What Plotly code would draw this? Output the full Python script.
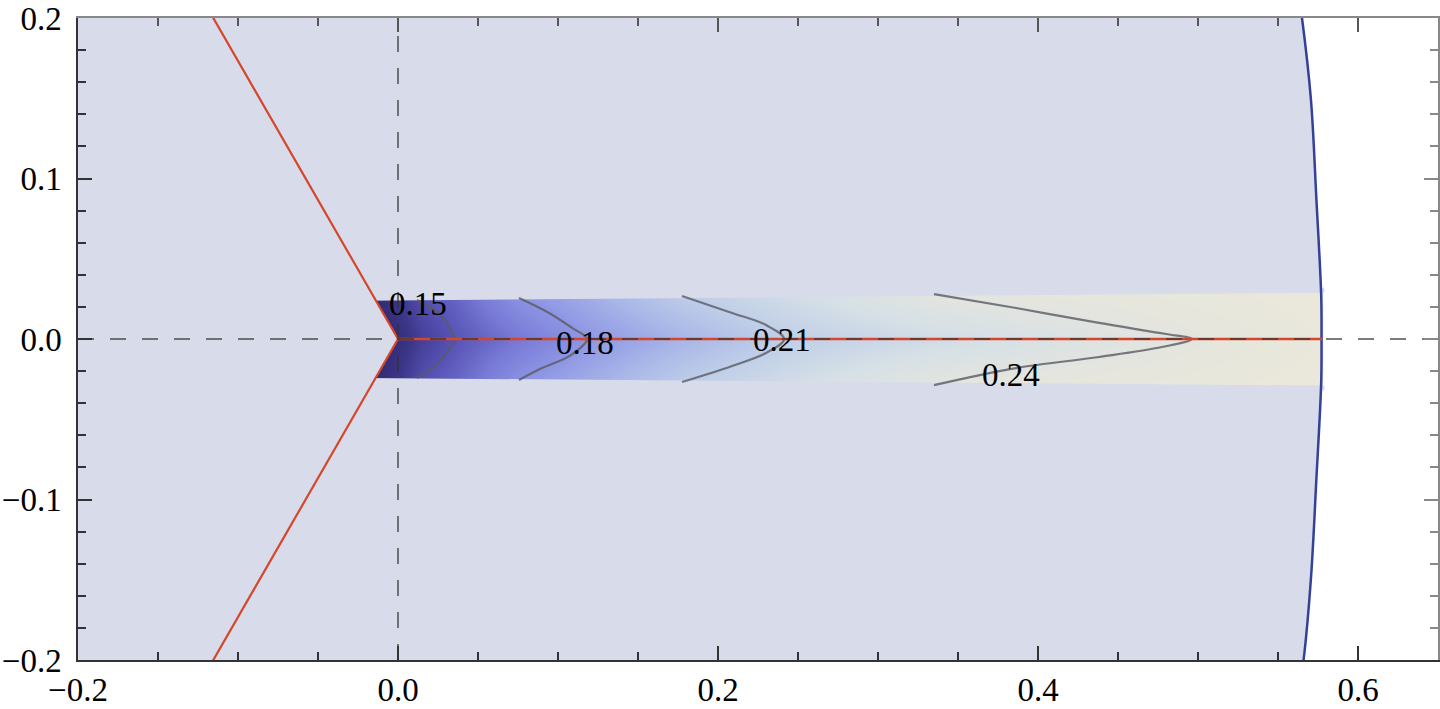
import numpy as np
import plotly.graph_objects as go

#### data ####
# boundary curve (dark blue), x as a function of y
blue_y = [0.21, 0.2, 0.149, 0.087, 0.027, 0.0, -0.027, -0.087, -0.149, -0.2, -0.21]
blue_x = [0.5635, 0.565, 0.5706, 0.574, 0.577, 0.5772, 0.577, 0.574, 0.5706, 0.566, 0.5645]

# red lines: wedge arms and the horizontal branch
red_arm_x = [-0.1212, 0.0, -0.1212]
red_arm_y = [0.21, 0.0, -0.21]
red_h_x = [0.0, 0.5775]
red_h_y = [0.0, 0.0]

# field values on the band (rows: y, columns: x)
band_x = [-0.014, 0.0, 0.015, 0.034, 0.076, 0.118, 0.178, 0.241, 0.335, 0.494, 0.578]
band_y = [-0.0295, 0.0, 0.0295]
z_center = [0.130, 0.135, 0.143, 0.150, 0.165, 0.180, 0.195, 0.210, 0.221, 0.240, 0.250]
z_edge = [0.133, 0.140, 0.150, 0.157, 0.180, 0.192, 0.210, 0.222, 0.240, 0.248, 0.252]

# band outline (upper / lower edge)
band_top_x = [-0.02, 0.579]
band_top_y = [0.0238, 0.0288]
band_bot_y = [-0.0243, -0.029]

# contour lines
c15_x = [0.0119, 0.0269, 0.0338, 0.0356, 0.0306, 0.0225, 0.0119]
c15_y = [0.0243, 0.015, 0.0037, 0.0, -0.0081, -0.0174, -0.0243]
c18_x = [0.0756, 0.0944, 0.1088, 0.1181, 0.1081, 0.09, 0.0756]
c18_y = [0.0255, 0.0162, 0.0069, 0.0, -0.01, -0.0181, -0.0255]
c21_x = [0.1775, 0.2088, 0.23, 0.2413, 0.23, 0.2088, 0.1775]
c21_y = [0.0268, 0.0162, 0.0087, 0.0, -0.0087, -0.0168, -0.0268]
c24_x = [0.335, 0.3863, 0.4381, 0.48, 0.4963, 0.4775, 0.4381, 0.3863, 0.335]
c24_y = [0.028, 0.0193, 0.01, 0.0031, 0.0, -0.005, -0.0112, -0.0181, -0.0287]

labels = ['0.15', '0.18', '0.21', '0.24']
label_x = [0.0125, 0.117, 0.240, 0.383]
label_y = [0.0218, -0.0025, -0.0006, -0.0224]

# axis ticks
x_ticks = [-0.2, 0.0, 0.2, 0.4, 0.6]
y_ticks = [-0.2, -0.1, 0.0, 0.1, 0.2]

# colour levels of the field
levels = [0.13, 0.14, 0.15, 0.165, 0.18, 0.195, 0.21, 0.225, 0.24, 0.255]
level_colors = ['rgb(45,38,108)', 'rgb(62,56,140)', 'rgb(86,82,180)', 'rgb(120,122,214)',
                'rgb(142,150,228)', 'rgb(168,182,232)', 'rgb(192,207,232)',
                'rgb(214,224,230)', 'rgb(228,229,222)', 'rgb(236,233,217)']

LAV = 'rgb(216,220,234)'
FONT = "'Liberation Serif', 'Times New Roman', 'DejaVu Serif', serif"

#### build ####
zmin, zmax = levels[0], levels[-1]
cscale = [[(l - zmin) / (zmax - zmin), c] for l, c in zip(levels, level_colors)]

z = np.array([z_edge, z_center, z_edge])
# pad with tiny edge cells so the heatmap stops right at the band limits
z = np.pad(z, 1, mode='edge')
hx = [band_x[0] - 1e-4] + band_x + [band_x[-1] + 1e-4]
hy = [band_y[0] - 1e-4] + band_y + [band_y[-1] + 1e-4]

fig = go.Figure()
fig.add_trace(go.Heatmap(x=hx, y=hy, z=z, zsmooth='best', colorscale=cscale,
                         zmin=zmin, zmax=zmax, showscale=False, hoverinfo='skip'))

# masks trimming the band
fig.add_trace(go.Scatter(x=band_top_x + band_top_x[::-1], y=band_top_y + [0.032, 0.032],
                         fill='toself', fillcolor=LAV, mode='none', hoverinfo='skip'))
fig.add_trace(go.Scatter(x=band_top_x + band_top_x[::-1], y=band_bot_y + [-0.032, -0.032],
                         fill='toself', fillcolor=LAV, mode='none', hoverinfo='skip'))
fig.add_trace(go.Scatter(x=[-0.02, -0.0139, 0.0, -0.0139, -0.02], y=[0.03, 0.024, 0.0, -0.024, -0.03],
                         fill='toself', fillcolor=LAV, mode='none', hoverinfo='skip'))

for cx, cy in [(c15_x, c15_y), (c18_x, c18_y), (c21_x, c21_y), (c24_x, c24_y)]:
    fig.add_trace(go.Scatter(x=cx, y=cy, mode='lines', line=dict(color='rgba(90,90,100,0.8)', width=2.2, shape='spline'),
                             hoverinfo='skip'))

fig.add_trace(go.Scatter(x=blue_x, y=blue_y, mode='lines', line=dict(color='#34409A', width=2.5, shape='spline'),
                         hoverinfo='skip'))
fig.add_trace(go.Scatter(x=red_arm_x, y=red_arm_y, mode='lines', line=dict(color='#D5462A', width=2.2),
                         hoverinfo='skip'))
fig.add_trace(go.Scatter(x=red_h_x, y=red_h_y, mode='lines', line=dict(color='#D5462A', width=2.5),
                         hoverinfo='skip'))

# dashed axes
fig.add_trace(go.Scatter(x=[0, 0], y=[-0.2, 0.2], mode='lines',
                         line=dict(color='rgba(50,50,50,0.85)', width=1.5, dash='16px,16px'), hoverinfo='skip'))
fig.add_trace(go.Scatter(x=[-0.2, 0.65], y=[0, 0], mode='lines',
                         line=dict(color='rgba(50,50,50,0.85)', width=1.5, dash='16px,16px'), hoverinfo='skip'))

# dummy trace for the top/right frame axes
fig.add_trace(go.Scatter(x=[None], y=[None], xaxis='x2', yaxis='y2', hoverinfo='skip'))

# lavender region left of the boundary curve
path = 'M -0.25,0.21 ' + ' '.join('L %g,%g' % (bx, by) for bx, by in zip(blue_x, blue_y)) + ' L -0.25,-0.21 Z'
fig.add_shape(type='path', path=path, xref='x', yref='y', fillcolor=LAV, line=dict(width=0), layer='below')

for t, lx, ly in zip(labels, label_x, label_y):
    fig.add_annotation(x=lx, y=ly, text=t, showarrow=False, xanchor='center', yanchor='middle',
                       font=dict(family=FONT, size=33, color='black'))

axis_common = dict(showgrid=False, zeroline=False, ticks='inside', ticklen=14, tickwidth=1.5,
                   showline=True, linewidth=1.5, automargin=False)
fig.update_layout(
    width=1440, height=709, showlegend=False,
    margin=dict(l=78, r=2, t=18, b=49),
    paper_bgcolor='white', plot_bgcolor='white',
    xaxis=dict(range=[-0.2, 0.65], tickmode='array', tickvals=x_ticks, tickformat='.1f',
               linecolor='#333', tickcolor='#333',
               minor=dict(dtick=0.05, tick0=-0.2, ticks='inside', ticklen=8, tickcolor='#333'),
               tickfont=dict(family=FONT, size=33, color='black'), **axis_common),
    yaxis=dict(range=[-0.2, 0.2], tickmode='array', tickvals=y_ticks, tickformat='.1f',
               linecolor='#333', tickcolor='#333', ticklabelstandoff=8,
               minor=dict(dtick=0.02, tick0=-0.2, ticks='inside', ticklen=8, tickcolor='#333'),
               tickfont=dict(family=FONT, size=33, color='black'), **axis_common),
    xaxis2=dict(range=[-0.2, 0.65], overlaying='x', side='top', anchor='y', tickmode='array', tickvals=x_ticks,
                showticklabels=False, linecolor='#888', tickcolor='#555',
                minor=dict(dtick=0.05, tick0=-0.2, ticks='inside', ticklen=8, tickcolor='#555'), **axis_common),
    yaxis2=dict(range=[-0.2, 0.2], overlaying='y', side='right', anchor='x', tickmode='array', tickvals=y_ticks,
                showticklabels=False, linecolor='#888', tickcolor='#888',
                minor=dict(dtick=0.02, tick0=-0.2, ticks='inside', ticklen=8, tickcolor='#888'), **axis_common),
)

# drop the browser's default 8px body margin so the figure fills the window
fig.write_html("out.html", config={'displayModeBar': False},
               post_script="document.body.style.margin='0';")
